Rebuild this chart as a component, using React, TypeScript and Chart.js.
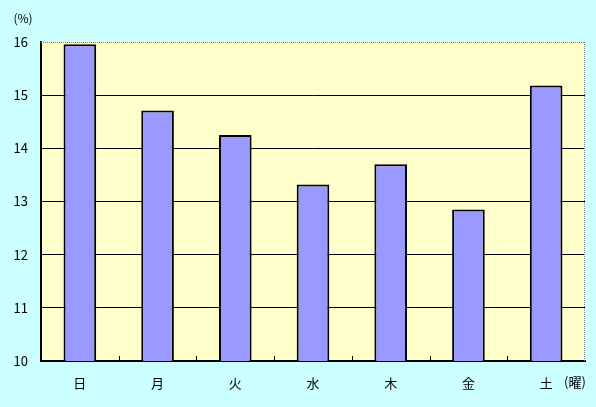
import React, { useEffect, useRef } from "react";
import { Chart, registerables } from "chart.js";

Chart.register(...registerables);

const categories = ["日", "月", "火", "水", "木", "金", "土"];
const values = [15.96, 14.71, 14.25, 13.32, 13.7, 12.85, 15.18];
const yMin = 10;
const yMax = 16;
const yUnit = "(%)";
const xUnit = "(曜)";

const FONT = "'Noto Sans CJK JP', 'DejaVu Sans', sans-serif";

const decorPlugin = {
  id: "decor",
  beforeDraw(chart: any) {
    const { ctx, chartArea } = chart;
    ctx.save();
    ctx.fillStyle = "#CCFFFF";
    ctx.fillRect(0, 0, chart.width, chart.height);
    ctx.fillStyle = "#FFFFCC";
    ctx.fillRect(chartArea.left, chartArea.top, chartArea.right - chartArea.left, chartArea.bottom - chartArea.top);
    ctx.restore();
  },
  afterDraw(chart: any) {
    const { ctx, chartArea } = chart;
    const x = chart.scales.x;
    ctx.save();
    ctx.strokeStyle = "#808080";
    ctx.lineWidth = 1;
    ctx.setLineDash([1, 1]);
    ctx.beginPath();
    ctx.moveTo(chartArea.left, Math.round(chartArea.top) + 0.5);
    ctx.lineTo(chartArea.right, Math.round(chartArea.top) + 0.5);
    ctx.moveTo(Math.round(chartArea.right) - 0.5, chartArea.top);
    ctx.lineTo(Math.round(chartArea.right) - 0.5, chartArea.bottom);
    ctx.stroke();
    ctx.setLineDash([]);
    ctx.strokeStyle = "#000";
    ctx.beginPath();
    for (let i = 1; i < categories.length; i++) {
      const px = Math.round((x.getPixelForTick(i - 1) + x.getPixelForTick(i)) / 2) + 0.5;
      ctx.moveTo(px, chartArea.bottom);
      ctx.lineTo(px, chartArea.bottom - 5);
    }
    ctx.stroke();
    ctx.fillStyle = "#000";
    ctx.font = `12px ${FONT}`;
    ctx.textAlign = "center";
    ctx.textBaseline = "middle";
    ctx.fillText(yUnit, 23, 18);
    ctx.font = `13px ${FONT}`;
    ctx.fillText(xUnit, 575, 382);
    ctx.restore();
  },
};

export default function App() {
  const ref = useRef<HTMLCanvasElement>(null);
  useEffect(() => {
    if (!ref.current) return;
    const chart = new Chart(ref.current, {
      type: "bar",
      data: {
        labels: categories,
        datasets: [
          {
            data: values,
            backgroundColor: "#9999FF",
            borderColor: "#000000",
            borderWidth: 2,
            categoryPercentage: 1,
            barPercentage: 0.42,
          },
        ],
      },
      options: {
        responsive: false,
        animation: false,
        devicePixelRatio: 1,
        layout: { padding: { left: 0, top: 42, right: 11, bottom: 0 } },
        plugins: { legend: { display: false }, tooltip: { enabled: false } },
        scales: {
          x: {
            grid: { display: false, drawTicks: false },
            border: { display: true, color: "#000", width: 2 },
            ticks: { color: "#000", font: { size: 13, family: FONT }, padding: 14 },
            afterFit(scale: any) {
              scale.height = 46;
            },
          },
          y: {
            min: yMin,
            max: yMax,
            grid: {
              drawTicks: false,
              color: (c: any) => (c.tick && c.tick.value === yMax ? "rgba(0,0,0,0)" : "#000"),
              lineWidth: 1,
            },
            border: { display: true, color: "#000", width: 2 },
            ticks: { stepSize: 1, color: "#000", font: { size: 13, family: FONT }, padding: 13 },
            afterFit(scale: any) {
              scale.width = 41;
            },
          },
        },
      },
      plugins: [decorPlugin],
    });
    return () => chart.destroy();
  }, []);
  return (
    <div style={{ position: "fixed", left: 0, top: 0, width: 596, height: 407, background: "#CCFFFF" }}>
      <canvas ref={ref} width={596} height={407} style={{ display: "block" }} />
    </div>
  );
}
